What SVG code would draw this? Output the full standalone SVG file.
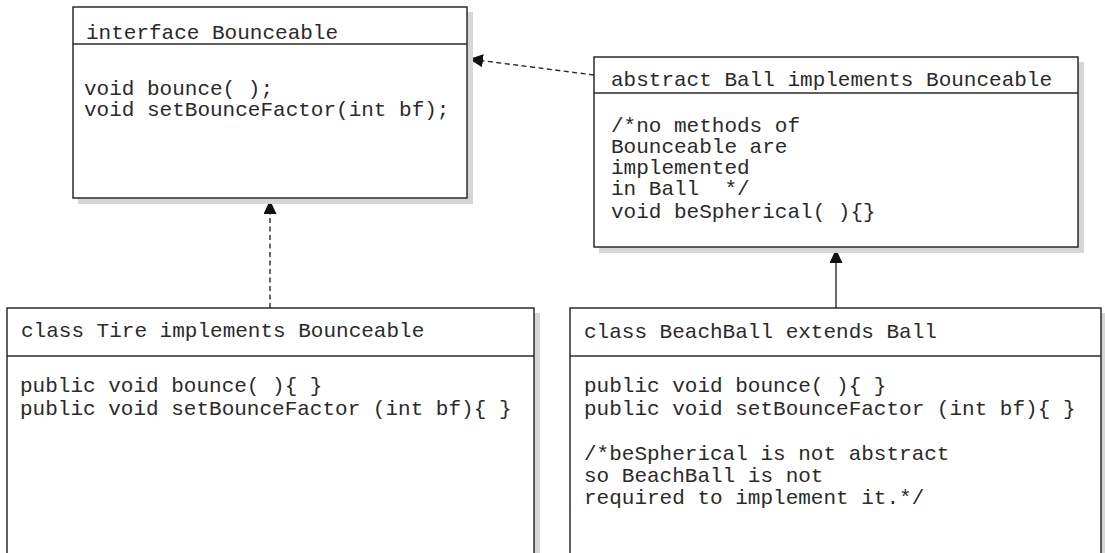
<svg xmlns="http://www.w3.org/2000/svg" width="1105" height="553" viewBox="0 0 1105 553">
  <style>
    .box { fill: #ffffff; stroke: #2b2b2b; stroke-width: 1.5; }
    .shadow { fill: #d6d6d6; stroke: none; }
    .div { stroke: #2b2b2b; stroke-width: 1.5; }
    .t { font-family: "Liberation Mono", "Courier New", monospace; font-size: 21px; fill: #2a2a2a; white-space: pre; }
    .conn { stroke: #2b2b2b; stroke-width: 1.4; fill: none; }
    .dash { stroke-dasharray: 5 3.5; }
  </style>
  <defs>
    <marker id="head" markerUnits="userSpaceOnUse" markerWidth="16" markerHeight="14" refX="14" refY="6.5" orient="auto">
      <path d="M0,0 L14,6.5 L0,13 z" fill="#111111"/>
    </marker>
  </defs>
  <rect width="1105" height="553" fill="#ffffff"/>

  <g id="connectors">
    <line class="conn dash" x1="594" y1="75" x2="469" y2="59" marker-end="url(#head)"/>
    <line class="conn dash" x1="270" y1="308" x2="270" y2="200" marker-end="url(#head)"/>
    <line class="conn" x1="836" y1="308" x2="836" y2="249" marker-end="url(#head)"/>
  </g>

  <g id="interface-bounceable">
    <rect class="shadow" x="78" y="12" width="395" height="192"/>
    <rect class="box" x="73" y="7" width="394" height="191"/>
    <line class="div" x1="73" y1="44" x2="467" y2="44"/>
    <text class="t" x="86" y="39">interface Bounceable</text>
    <text class="t" x="84" y="95">void bounce( );</text>
    <text class="t" x="84" y="116">void setBounceFactor(int bf);</text>
  </g>

  <g id="abstract-ball">
    <rect class="shadow" x="599" y="62" width="485" height="191"/>
    <rect class="box" x="594" y="57" width="484" height="190"/>
    <line class="div" x1="594" y1="93" x2="1078" y2="93"/>
    <text class="t" x="611" y="86">abstract Ball implements Bounceable</text>
    <text class="t" x="611" y="132">/*no methods of</text>
    <text class="t" x="611" y="153">Bounceable are</text>
    <text class="t" x="611" y="174">implemented</text>
    <text class="t" x="611" y="195" xml:space="preserve">in Ball  */</text>
    <text class="t" x="611" y="218">void beSpherical( ){}</text>
  </g>

  <g id="class-tire">
    <rect class="shadow" x="12" y="313" width="528" height="260"/>
    <rect class="box" x="7" y="308" width="527" height="260"/>
    <line class="div" x1="7" y1="356" x2="534" y2="356"/>
    <text class="t" x="21" y="337">class Tire implements Bounceable</text>
    <text class="t" x="20" y="392">public void bounce( ){ }</text>
    <text class="t" x="20" y="415">public void setBounceFactor (int bf){ }</text>
  </g>

  <g id="class-beachball">
    <rect class="shadow" x="575" y="313" width="532" height="260"/>
    <rect class="box" x="570" y="308" width="531" height="260"/>
    <line class="div" x1="570" y1="356" x2="1101" y2="356"/>
    <text class="t" x="584" y="338">class BeachBall extends Ball</text>
    <text class="t" x="584" y="392">public void bounce( ){ }</text>
    <text class="t" x="584" y="415">public void setBounceFactor (int bf){ }</text>
    <text class="t" x="584" y="460">/*beSpherical is not abstract</text>
    <text class="t" x="584" y="482">so BeachBall is not</text>
    <text class="t" x="584" y="504">required to implement it.*/</text>
  </g>
</svg>
